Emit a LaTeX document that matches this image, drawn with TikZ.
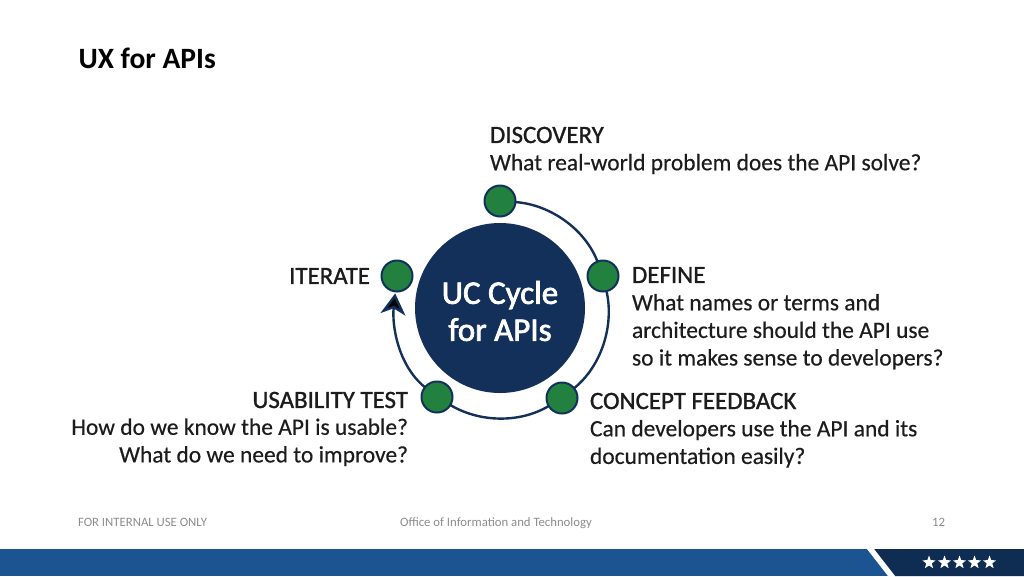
\documentclass[tikz,border=0pt]{standalone}
\usepackage{fontspec}
\setmainfont{Carlito}
\newfontfamily\labelfont[FakeBold=0.4]{Carlito}
\newfontfamily\headfont[FakeBold=1.2]{Carlito}
\newfontfamily\hubfont[FakeBold=2.2]{Carlito}
\usepackage{xcolor}
\usepackage{tikz}
\usetikzlibrary{arrows.meta}
\usetikzlibrary{shapes.geometric}
\definecolor{navy}{HTML}{12305A}
\definecolor{dotgreen}{HTML}{23813F}
\definecolor{barblue}{HTML}{1B5491}
\definecolor{bardark}{HTML}{0F2D52}
\definecolor{footgray}{HTML}{8C8C8C}
\definecolor{inktext}{HTML}{1C1C1C}

\begin{document}
\begin{tikzpicture}[x=1pt,y=-1pt,auto]
	\tikzstyle{every node}=[inner sep=0pt, outer sep=0pt]
	\tikzstyle{dot}=[circle, fill=dotgreen, draw=navy, line width=2pt, minimum size=31pt]
	\tikzstyle{ring}=[draw=navy, line width=2.4pt, looseness=0.88]
	\tikzstyle{head}=[text=inktext, font=\fontsize{24.9}{27.5}\selectfont\headfont]
	\tikzstyle{body}=[text=inktext, font=\fontsize{23.45}{27.6}\selectfont\labelfont]
	\tikzstyle{foot}=[text=footgray, font=\fontsize{12.75}{14}\selectfont]
	\useasboundingbox (0,0) rectangle (1024,576);

	% bottom bar
	\fill[barblue] (0,549) rectangle (1024,576);
	\fill[bardark] (874,549) -- (1024,549) -- (1024,576) -- (895,576) -- cycle;
	\fill[white] (867,549) -- (874,549) -- (895,576) -- (888,576) -- cycle;
	\foreach \i/\x in {1/929,2/944.5,3/959.5,4/974.5,5/989.5}
		\node[star, star points=5, star point ratio=2.4, fill=white, minimum size=14pt] (star\i) at (\x,562.5) {};

	% cycle
	\node[circle, fill=navy, minimum size=170pt] (hub) at (500,308) {};
	\node[dot] (discovery) at (500,201) {};
	\node[dot] (define) at (603,276) {};
	\node[dot] (concept) at (562,398) {};
	\node[dot] (usability) at (437,397) {};
	\node[dot] (iterate) at (397,276) {};
	\path[ring]
		(discovery) edge[out=-4, in=111] (define)
		(define) edge[out=-77, in=39] (concept)
		(concept) edge[out=-149, in=-31] (usability)
		(usability) edge[out=141, in=-96, shorten >=2pt, -{Stealth[length=21pt,width=25pt,inset=6pt]}] (iterate);
	\node[align=center, text=white, font=\fontsize{33}{37}\selectfont\hubfont] (hubtext) at (500,311) {UC Cycle\\for APIs};

	% labels
	\node[head, anchor=west] (disc1) at (490,135) {DISCOVERY};
	\node[body, anchor=west] (disc2) at (490,164) {What real-world problem does the API solve?};
	\node[head, anchor=west] (def1) at (632,275) {DEFINE};
	\node[body, anchor=north west, align=left] (def2) at (632,294) {What names or terms and\\architecture should the API use\\so it makes sense to developers?};
	\node[head, anchor=west] (conc1) at (590,401) {CONCEPT FEEDBACK};
	\node[body, anchor=north west, align=left] (conc2) at (590,420) {Can developers use the API and its\\documentation easily?};
	\node[head, anchor=east] (iter1) at (370,276) {ITERATE};
	\node[head, anchor=east] (usab1) at (408,400) {USABILITY TEST};
	\node[body, anchor=north east, align=right] (usab2) at (408,418.5) {How do we know the API is usable?\\What do we need to improve?};

	% title and footer
	\node[anchor=west, text=black, font=\fontsize{29.5}{30}\selectfont\bfseries] (title) at (78.5,58) {UX for APIs};
	\node[foot, anchor=base west] (internal) at (78,526) {FOR INTERNAL USE ONLY};
	\node[foot, anchor=base] (office) at (496,526) {Office of Information and Technology};
	\node[foot, anchor=base east] (page) at (945,526) {12};
\end{tikzpicture}
\end{document}
